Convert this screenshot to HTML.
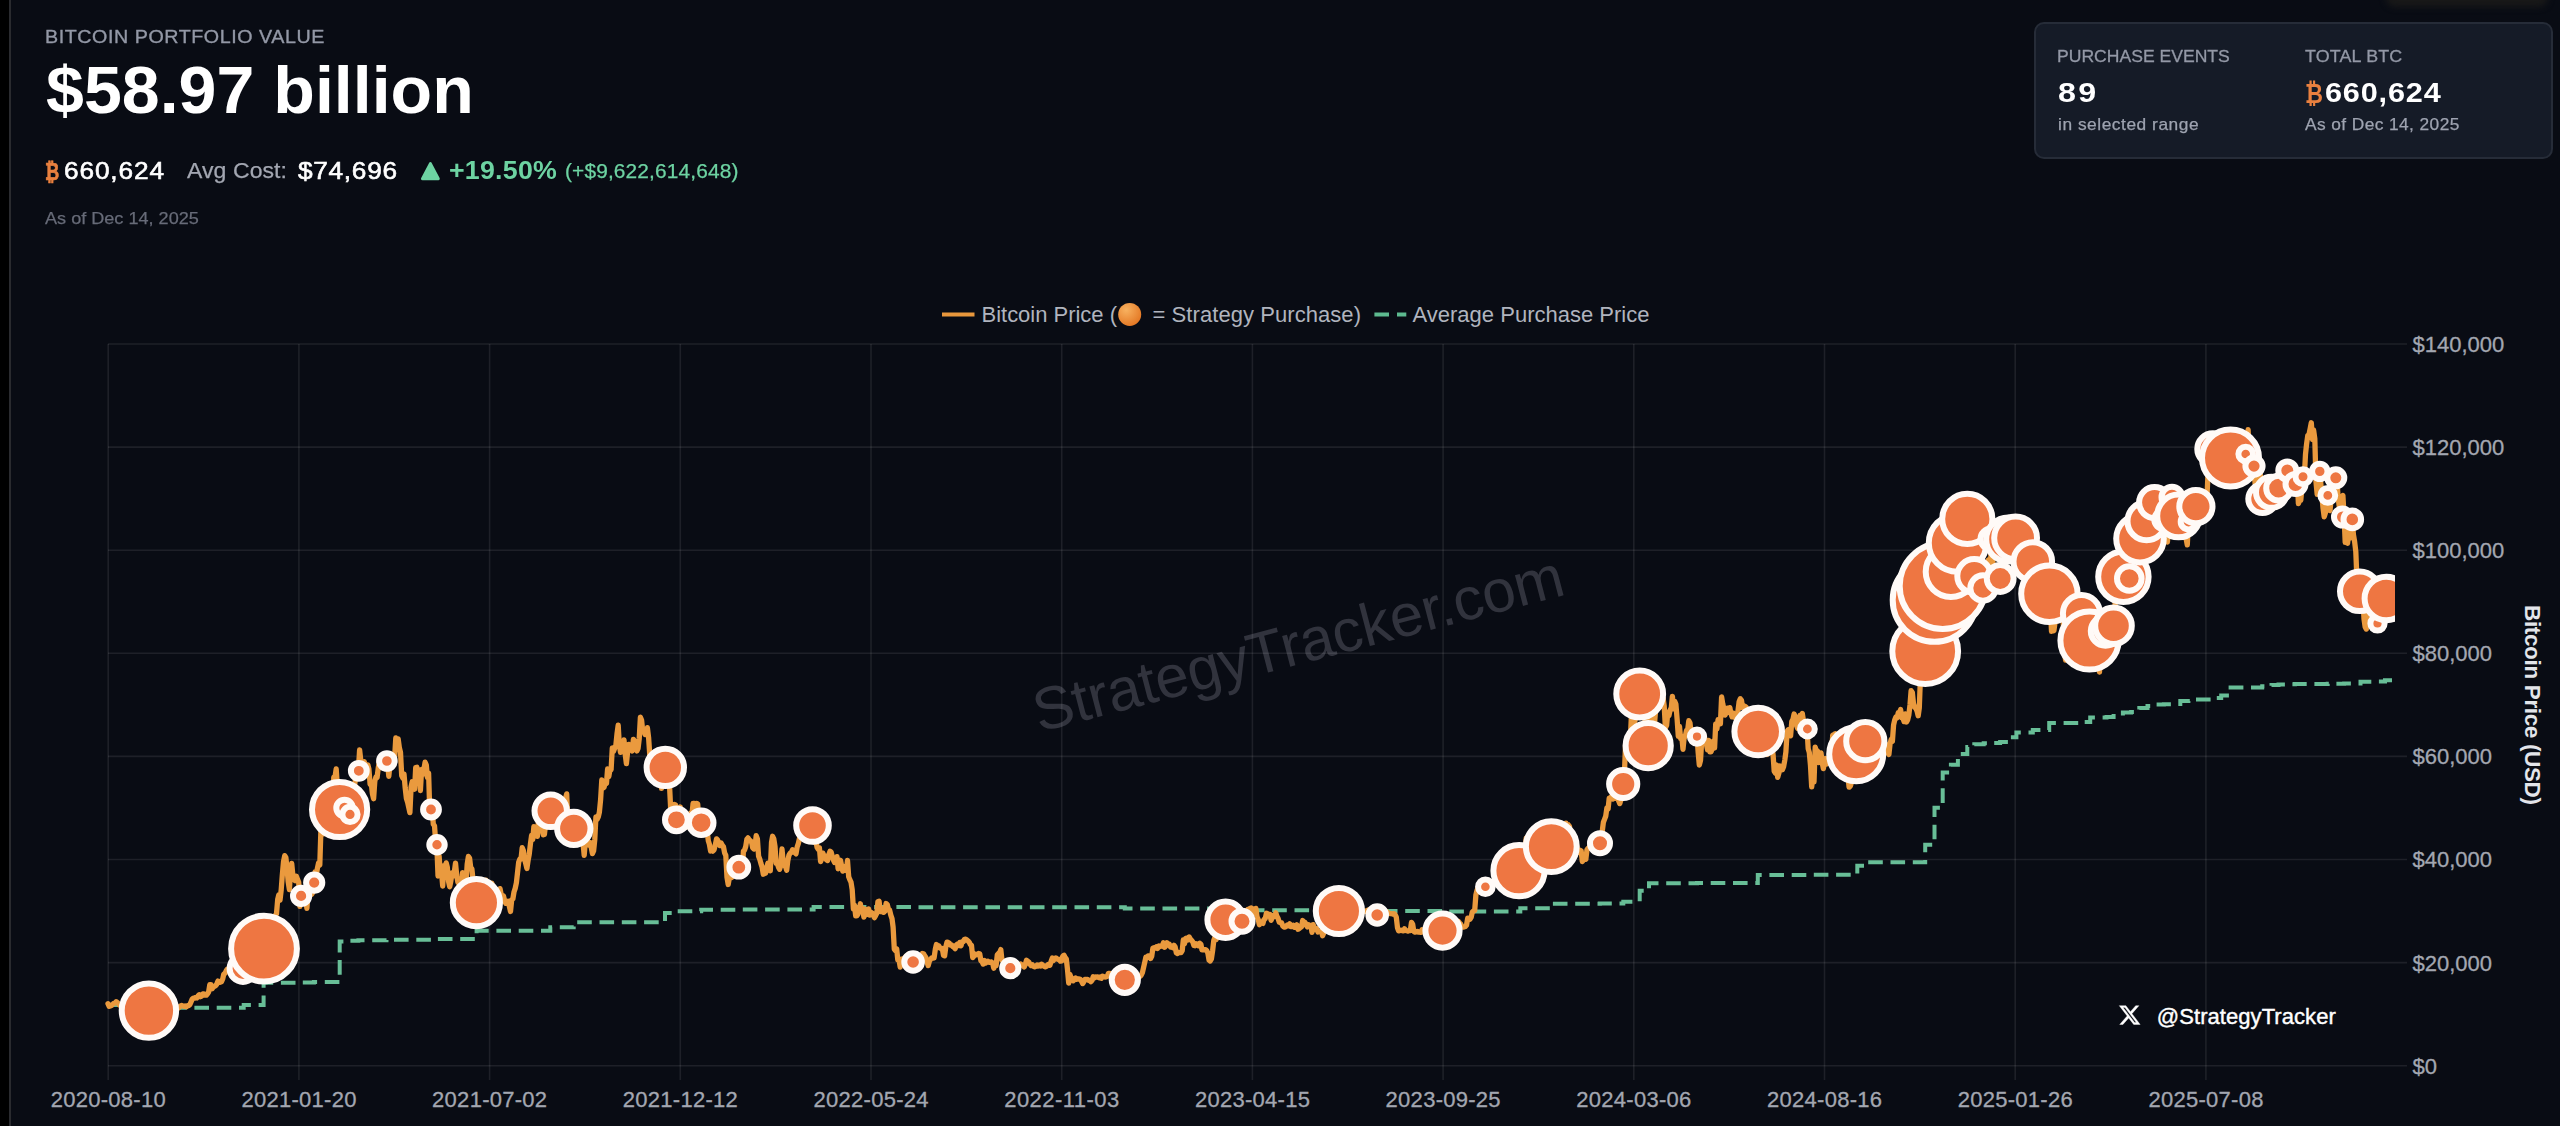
<!DOCTYPE html>
<html lang="en"><head><meta charset="utf-8"><title>Bitcoin Portfolio Value</title>
<style>
html,body{margin:0;padding:0}
body{width:2560px;height:1126px;overflow:hidden;position:relative;background:#090c14;font-family:"Liberation Sans",Arial,Helvetica,sans-serif;color:#fff}
.abs{position:absolute;white-space:nowrap;line-height:1}
.strip{position:absolute;left:0;top:0;width:9px;height:1126px;background:#000}
.edge{position:absolute;left:9px;top:0;width:2px;height:1126px;background:#2a2b2f}
.smudge{position:absolute;left:2386px;top:-12px;width:162px;height:19px;border-radius:9px;background:#181818;filter:blur(3px)}
.chart{position:absolute;left:0;top:0}
.card{position:absolute;left:2034px;top:22px;width:519px;height:136.5px;box-sizing:border-box;border:2px solid #262c38;border-radius:10px;background:#151b27}
.lbl{color:#9398a6}
.g{color:#6dd3a2}
.o{color:#e9803f}
</style></head><body>
<div class="strip"></div><div class="edge"></div><div class="smudge"></div>
<svg class="chart" width="2560" height="1126" viewBox="0 0 2560 1126" font-family="Liberation Sans, Arial, Helvetica, sans-serif">
<defs><clipPath id="cp"><rect x="100" y="330" width="2295.0" height="750"/></clipPath>
<radialGradient id="coin" cx="0.35" cy="0.3" r="0.8"><stop offset="0" stop-color="#f8b260"/><stop offset="1" stop-color="#e2731f"/></radialGradient></defs>
<g transform="translate(1298 643) rotate(-14.65)"><text x="0" y="21" text-anchor="middle" font-size="60" fill="#31333d" textLength="546">StrategyTracker.com</text></g>
<g stroke="#ffffff" stroke-opacity="0.088" stroke-width="1.6" fill="none"><path d="M108.2 344V1080"/><path d="M298.9 344V1080"/><path d="M489.6 344V1080"/><path d="M680.3 344V1080"/><path d="M871 344V1080"/><path d="M1061.7 344V1080"/><path d="M1252.4 344V1080"/><path d="M1443.1 344V1080"/><path d="M1633.8 344V1080"/><path d="M1824.5 344V1080"/><path d="M2015.2 344V1080"/><path d="M2205.9 344V1080"/><path d="M108 344H2407"/><path d="M108 447.1H2407"/><path d="M108 550.2H2407"/><path d="M108 653.3H2407"/><path d="M108 756.4H2407"/><path d="M108 859.5H2407"/><path d="M108 962.6H2407"/><path d="M108 1065.7H2407"/></g>
<g font-size="22" fill="#a3a7b1" stroke="#a3a7b1" stroke-width="0.3"><text x="108.2" y="1106.7" text-anchor="middle" textLength="115">2020-08-10</text><text x="298.9" y="1106.7" text-anchor="middle" textLength="115">2021-01-20</text><text x="489.6" y="1106.7" text-anchor="middle" textLength="115">2021-07-02</text><text x="680.3" y="1106.7" text-anchor="middle" textLength="115">2021-12-12</text><text x="871" y="1106.7" text-anchor="middle" textLength="115">2022-05-24</text><text x="1061.7" y="1106.7" text-anchor="middle" textLength="115">2022-11-03</text><text x="1252.4" y="1106.7" text-anchor="middle" textLength="115">2023-04-15</text><text x="1443.1" y="1106.7" text-anchor="middle" textLength="115">2023-09-25</text><text x="1633.8" y="1106.7" text-anchor="middle" textLength="115">2024-03-06</text><text x="1824.5" y="1106.7" text-anchor="middle" textLength="115">2024-08-16</text><text x="2015.2" y="1106.7" text-anchor="middle" textLength="115">2025-01-26</text><text x="2205.9" y="1106.7" text-anchor="middle" textLength="115">2025-07-08</text><text x="2412.5" y="351.9">$140,000</text><text x="2412.5" y="455">$120,000</text><text x="2412.5" y="558.1">$100,000</text><text x="2412.5" y="661.2">$80,000</text><text x="2412.5" y="764.3">$60,000</text><text x="2412.5" y="867.4">$40,000</text><text x="2412.5" y="970.5">$20,000</text><text x="2412.5" y="1073.6">$0</text></g>
<text transform="translate(2524.5 705) rotate(90)" text-anchor="middle" font-size="22.5" font-weight="bold" fill="#e3e5ea" textLength="200">Bitcoin Price (USD)</text>
<g font-size="22" fill="#b0b4be">
<path d="M942 314.5H974.5" stroke="#e8973c" stroke-width="4"/>
<text x="981.5" y="322.2" textLength="135.5">Bitcoin Price (</text>
<circle cx="1129.7" cy="314.4" r="11.5" fill="url(#coin)"/>
<text x="1152.5" y="322.2" textLength="208.5">= Strategy Purchase)</text>
<path d="M1374.4 314.5H1389M1397 314.5H1406.3" stroke="#5dba8f" stroke-width="4"/>
<text x="1412.5" y="322.2" textLength="237">Average Purchase Price</text>
</g>
<g clip-path="url(#cp)">
<path d="M108 1005 H149 V1007.8 H243.7 V1005.1 H263.6 V982.8 H301.1 V982.4 H313.9 V982.1 H339.7 V941.5 H345.5 V941.1 H350.2 V940.8 H358.4 V940.3 H386.5 V939.8 H430.9 V939.4 H436.8 V939.1 H476.6 V930.7 H550.3 V927.2 H573.7 V922.3 H665 V913 H676.7 V911.3 H701.2 V909.7 H739.9 V909.5 H813.6 V907 H913 V907.2 H1010.2 V907.3 H1124.8 V908.5 H1225.5 V910.3 H1240.7 V910.3 H1339 V911.1 H1377.6 V911.1 H1443.1 V911.6 H1486.4 V911.6 H1520.3 V908.3 H1551.9 V903.7 H1599.9 V903.4 H1623.3 V901.7 H1639.7 V890.7 H1649 V883.2 H1697 V883.1 H1757.8 V874.9 H1807 V874.7 H1857.3 V865.7 H1865.5 V862.2 H1925.2 V844.7 H1934.5 V807.8 H1942.7 V772.4 H1950.9 V764.7 H1957.9 V754.1 H1967.3 V746.9 H1974.3 V744.2 H1983.7 V743.3 H1991.9 V742.9 H2000.1 V742 H2008.3 V737.3 H2016.4 V732.6 H2032.8 V729.9 H2049.2 V723.1 H2073.8 V723.1 H2082 V721.9 H2090.2 V717.5 H2106.5 V717 H2113.6 V715.9 H2122.9 V712.4 H2131.1 V711.9 H2139.3 V708.1 H2147.5 V705.9 H2155.7 V704.6 H2163.9 V704.3 H2172.1 V704 H2180.3 V701 H2188.4 V700.9 H2195.5 V699.4 H2213 V697.9 H2221.2 V695.4 H2230.6 V687.6 H2245.8 V687.5 H2254 V687.4 H2262.2 V686.3 H2271.5 V685.1 H2278.5 V684.5 H2286.7 V684.3 H2294.9 V684 H2303.1 V684 H2319.5 V683.9 H2327.7 V683.8 H2335.9 V683.7 H2344.1 V683.6 H2352.3 V683.5 H2360.5 V681.7 H2376.8 V681.6 H2385 V680.3 H2392" fill="none" stroke="#68be97" stroke-width="4" stroke-dasharray="14.6 7.7"/>
<path d="M108 1003.7 L109.2 1006.3 L110.3 1005.9 L111.5 1005.5 L112.7 1004.4 L113.9 1003.3 L115 1003.2 L116.2 1001.7 L117.4 1002.6 L118.5 1003.8 L119.7 1005.2 L120.9 1005.5 L122 1005.8 L123.2 1006.7 L124.4 1006.4 L125.6 1006.5 L126.7 1006.9 L127.9 1006.6 L129.1 1005.8 L130.2 1005.3 L131.4 1004.1 L132.6 1004.6 L133.7 1003.5 L134.9 1008.3 L136.1 1012.5 L137.3 1012.4 L138.4 1012.7 L139.6 1012.3 L140.8 1012.8 L141.9 1013 L143.1 1012.7 L144.3 1011.6 L145.4 1012.4 L146.6 1011.4 L147.8 1010.3 L149 1010 L150.1 1009.6 L151.3 1008.6 L152.5 1008.8 L153.6 1008.6 L154.8 1007.8 L156 1009.9 L157.1 1011.4 L158.3 1011.4 L159.5 1012.2 L160.7 1011.8 L161.8 1010.4 L163 1009.6 L164.2 1009.4 L165.3 1009.7 L166.5 1009.5 L167.7 1009.5 L168.8 1010.6 L170 1010.6 L171.2 1010.8 L172.4 1010.2 L173.5 1009.5 L174.7 1009 L175.9 1009.2 L177 1008.9 L178.2 1008.1 L179.4 1006.8 L180.5 1006 L181.7 1005.5 L182.9 1005.9 L184.1 1006.4 L185.2 1006 L186.4 1006.7 L187.6 1005.7 L188.7 1005.6 L189.9 1004.5 L191.1 1001.7 L192.2 999.1 L193.4 998.2 L194.6 998.1 L195.8 997.4 L196.9 997.9 L198.1 995.9 L199.3 994.7 L200.4 996.7 L201.6 996.1 L202.8 994 L203.9 993.9 L205.1 995.2 L206.3 995.2 L207.5 993.8 L208.6 992.1 L209.8 984.7 L211 984.7 L212.1 988.8 L213.3 987 L214.5 986.2 L215.6 985.8 L216.8 984.1 L218 981.1 L219.2 981.7 L220.3 982.3 L221.5 981.6 L222.7 979 L223.8 974.1 L225 973.3 L226.2 970.8 L227.4 969 L228.5 968.7 L229.7 968.9 L230.9 970.2 L232 966.6 L233.2 968.7 L234.4 976.7 L235.5 976.9 L236.7 973.8 L237.9 968.5 L239.1 963.5 L240.2 968.2 L241.4 965.6 L242.6 964.8 L243.7 968.7 L244.9 966.4 L246.1 968.3 L247.2 968.8 L248.4 970.8 L249.6 971 L250.8 971.4 L251.9 972 L253.1 969.3 L254.3 966.4 L255.4 964.9 L256.6 965.1 L257.8 955.3 L258.9 947.6 L260.1 943.6 L261.3 942.2 L262.5 945.1 L263.6 947.8 L264.8 946.1 L266 945.3 L267.1 942.8 L268.3 937.8 L269.5 928.8 L270.6 929.8 L271.8 926.3 L273 924.1 L274.2 916.4 L275.3 915.6 L276.5 913.8 L277.7 899.4 L278.8 895 L280 900.2 L281.2 889.9 L282.3 875.2 L283.5 861.8 L284.7 855.7 L285.9 857.7 L287 868.3 L288.2 881.9 L289.4 889.6 L290.5 872.6 L291.7 863.4 L292.9 875.5 L294 879.6 L295.2 880.6 L296.4 876.3 L297.6 879.6 L298.7 882.2 L299.9 906.4 L301.1 895 L302.2 899.7 L303.4 898.7 L304.6 898.9 L305.7 897.6 L306.9 908.4 L308.1 893 L309.3 888.4 L310.4 888.4 L311.6 894.5 L312.8 892.5 L313.9 882.2 L315.1 871.9 L316.3 874.7 L317.4 868.3 L318.6 862.9 L319.8 864.9 L321 827.1 L322.1 825.5 L323.3 834 L324.5 818.3 L325.6 820.9 L326.8 821.9 L328 814.2 L329.2 818.1 L330.3 811.6 L331.5 796.7 L332.7 799.3 L333.8 777.1 L335 777.1 L336.2 768.9 L337.3 785.9 L338.5 813.2 L339.7 809 L340.9 822.4 L342 826.6 L343.2 827.1 L344.4 832.5 L345.5 809.6 L346.7 815.7 L347.9 804.9 L349 815.2 L350.2 813.2 L351.4 813.2 L352.6 801.3 L353.7 795.7 L354.9 782.8 L356.1 776.6 L357.2 767.3 L358.4 769.9 L359.6 749.8 L360.7 759.6 L361.9 777.1 L363.1 772.5 L364.3 761.7 L365.4 768.1 L366.6 764.8 L367.8 764.8 L368.9 768.9 L370.1 784.3 L371.3 783.3 L372.4 793.6 L373.6 798.7 L374.8 781.2 L376 776.9 L377.1 777.4 L378.3 767.6 L379.5 761.7 L380.6 761.7 L381.8 760.6 L383 759.1 L384.1 768.4 L385.3 762.4 L386.5 760.9 L387.7 765.3 L388.8 776.3 L390 764.8 L391.2 765 L392.3 757 L393.5 755 L394.7 756.5 L395.8 738 L397 740 L398.2 739 L399.4 748 L400.5 752.4 L401.7 775.6 L402.9 778.1 L404 774 L405.2 787.9 L406.4 798.5 L407.5 801.8 L408.7 807.2 L409.9 812.6 L411.1 786.9 L412.2 781.8 L413.4 782.5 L414.6 789.2 L415.7 767.6 L416.9 767.3 L418.1 773.5 L419.2 770.4 L420.4 790.5 L421.6 769.4 L422.8 774.5 L423.9 769.6 L425.1 762.2 L426.3 765 L427.4 777.4 L428.6 773 L429.8 811.9 L430.9 809 L432.1 808 L433.3 824.2 L434.5 825.8 L435.6 840.7 L436.8 844.1 L438 876 L439.1 855.9 L440.3 872.9 L441.5 871.9 L442.7 886 L443.8 865.7 L445 867.2 L446.2 862.9 L447.3 867.2 L448.5 881.1 L449.7 886.8 L450.8 881.4 L452 872.9 L453.2 876 L454.4 871.6 L455.5 863.1 L456.7 875.2 L457.9 882.2 L459 880.6 L460.2 892.2 L461.4 893 L462.5 872.6 L463.7 876 L464.9 872.9 L466.1 881.9 L467.2 864.1 L468.4 856.4 L469.6 858.2 L470.7 867.5 L471.9 869 L473.1 880.6 L474.2 881.9 L475.4 881.7 L476.6 902.3 L477.8 897.6 L478.9 891.4 L480.1 886.6 L481.3 902.3 L482.4 899.2 L483.6 886.6 L484.8 887.6 L485.9 880.1 L487.1 884.5 L488.3 892.2 L489.5 890.9 L490.6 886.3 L491.8 883.2 L493 891.4 L494.1 888.9 L495.3 890.7 L496.5 895.6 L497.6 890.9 L498.8 892.5 L500 888.6 L501.2 894.5 L502.3 896.6 L503.5 896.1 L504.7 901 L505.8 903.3 L507 902.8 L508.2 901.2 L509.3 906.1 L510.5 911.5 L511.7 899.7 L512.9 898.7 L514 892 L515.2 888.4 L516.4 882.7 L517.5 872.9 L518.7 862.1 L519.9 859 L521 859 L522.2 847.7 L523.4 850.8 L524.6 859.5 L525.7 863.4 L526.9 868.5 L528.1 860.3 L529.2 854.4 L530.4 844.3 L531.6 835.3 L532.7 839.4 L533.9 826.6 L535.1 830.2 L536.3 830.2 L537.4 836.3 L538.6 818.8 L539.8 822.4 L540.9 822.7 L542.1 828.4 L543.3 834.8 L544.4 834.5 L545.6 824.2 L546.8 811.1 L548 813.2 L549.1 811.1 L550.3 810.1 L551.5 819.3 L552.6 812.6 L553.8 823.7 L555 812.4 L556.2 813.2 L557.3 813.7 L558.5 823 L559.7 822.2 L560.8 813.4 L562 811.1 L563.2 807.5 L564.3 807.8 L565.5 798.5 L566.7 793.9 L567.9 824 L569 827.6 L570.2 826 L571.4 834 L572.5 832.2 L573.7 827.8 L574.9 833.5 L576 822.4 L577.2 817 L578.4 819.1 L579.6 821.4 L580.7 816.3 L581.9 821.7 L583.1 843.5 L584.2 855.4 L585.4 840.7 L586.6 833.8 L587.7 844.3 L588.9 845.1 L590.1 842.5 L591.3 847.7 L592.4 853.6 L593.6 851 L594.8 839.4 L595.9 817 L597.1 819.3 L598.3 816.8 L599.4 812.1 L600.6 799.8 L601.8 779.9 L603 787.9 L604.1 787.2 L605.3 782 L606.5 783.3 L607.6 768.9 L608.8 776.6 L610 769.4 L611.1 769.6 L612.3 747.8 L613.5 751.4 L614.7 748 L615.8 745.7 L617 733.9 L618.2 725.1 L619.3 744.7 L620.5 752.4 L621.7 748.8 L622.8 751.4 L624 740 L625.2 754.2 L626.4 763.7 L627.5 752.9 L628.7 744.4 L629.9 746.2 L631 749.3 L632.2 750.9 L633.4 739.3 L634.5 740.8 L635.7 748.5 L636.9 750.9 L638.1 748.3 L639.2 739 L640.4 717.1 L641.6 720.2 L642.7 730.8 L643.9 731.3 L645.1 734.6 L646.2 733.3 L647.4 727.7 L648.6 737.5 L649.8 755.5 L650.9 754.2 L652.1 772 L653.3 765.8 L654.4 757.5 L655.6 762.7 L656.8 775.1 L657.9 768.6 L659.1 770.4 L660.3 761.4 L661.5 788.4 L662.6 782.8 L663.8 769.9 L665 767.3 L666.1 771.5 L667.3 770.4 L668.5 774 L669.7 789 L670.8 811.6 L672 810.6 L673.2 804.9 L674.3 804.4 L675.5 804.9 L676.7 819.9 L677.8 821.9 L679 810.6 L680.2 807 L681.4 824.5 L682.5 825 L683.7 813.2 L684.9 819.9 L686 827.1 L687.2 823.7 L688.4 824.5 L689.5 823.5 L690.7 813.2 L691.9 814.7 L693.1 803.4 L694.2 803.4 L695.4 805.4 L696.6 803.4 L697.7 803.9 L698.9 820.1 L700.1 825.8 L701.2 822.2 L702.4 826.6 L703.6 819.3 L704.8 821.7 L705.9 825.8 L707.1 830.5 L708.3 840.7 L709.4 844.2 L710.6 851 L711.8 850.2 L712.9 851.1 L714.1 849.7 L715.3 844.9 L716.5 838.9 L717.6 840.1 L718.8 843 L720 845.6 L721.1 843 L722.3 845.2 L723.5 846.9 L724.6 852.8 L725.8 855.4 L727 877.3 L728.2 884.5 L729.3 878.1 L730.5 876.3 L731.7 877.5 L732.8 875.2 L734 874.9 L735.2 870.6 L736.3 868.9 L737.5 869.8 L738.7 866.7 L739.9 865.4 L741 871.3 L742.2 873.7 L743.4 851.3 L744.5 850.3 L745.7 846.6 L746.9 839.2 L748 837.9 L749.2 839.9 L750.4 840.7 L751.6 842.2 L752.7 847.7 L753.9 849 L755.1 845.9 L756.2 835.6 L757.4 838.9 L758.6 856.2 L759.7 859 L760.9 863.4 L762.1 867.2 L763.3 874.2 L764.4 868 L765.6 873.2 L766.8 867.5 L767.9 863.1 L769.1 866.7 L770.3 870.8 L771.5 842.5 L772.6 836.3 L773.8 838.9 L775 846.4 L776.1 863.4 L777.3 863.5 L778.5 867.2 L779.6 869.3 L780.8 865.4 L782 849 L783.2 861.8 L784.3 865.4 L785.5 866.4 L786.7 870.3 L787.8 860.8 L789 855.1 L790.2 853.1 L791.3 852.5 L792.5 849.7 L793.7 851.6 L794.9 852.6 L796 853.9 L797.2 846.9 L798.4 843.4 L799.5 838.4 L800.7 836.6 L801.9 828 L803 823.7 L804.2 822.4 L805.4 820.6 L806.6 822.7 L807.7 830.4 L808.9 826.6 L810.1 823.7 L811.2 826 L812.4 825 L813.6 830.7 L814.7 842.5 L815.9 841 L817.1 847.4 L818.3 849.4 L819.4 847.7 L820.6 861.6 L821.8 858.5 L822.9 853.1 L824.1 856.3 L825.3 856.2 L826.4 859.7 L827.6 860.5 L828.8 854.9 L830 851.3 L831.1 852 L832.3 856.4 L833.5 860.3 L834.6 862.4 L835.8 861.8 L837 856.7 L838.1 868.8 L839.3 862.9 L840.5 860.3 L841.7 866.2 L842.8 871.1 L844 866.7 L845.2 866.7 L846.3 870.6 L847.5 860.5 L848.7 876.8 L849.8 879.6 L851 882.2 L852.2 889.6 L853.4 909 L854.5 905.4 L855.7 915.9 L856.9 915.6 L858 914.1 L859.2 910 L860.4 903.8 L861.5 911.3 L862.7 908.4 L863.9 917.2 L865.1 909 L866.2 914.6 L867.4 911.8 L868.6 909 L869.7 915.1 L870.9 912.3 L872.1 913 L873.2 914.4 L874.4 917.7 L875.6 915.6 L876.8 913.3 L877.9 901.7 L879.1 901.2 L880.3 911.5 L881.4 908.2 L882.6 912 L883.8 912.4 L885 911 L886.1 903.5 L887.3 904.6 L888.5 909.5 L889.6 910 L890.8 915.1 L892 918.7 L893.1 927.2 L894.3 949.1 L895.5 950.7 L896.7 948.9 L897.8 959.9 L899 959.7 L900.2 967.1 L901.3 959.2 L902.5 959.2 L903.7 958.4 L904.8 962.3 L906 956.3 L907.2 955.8 L908.4 954.3 L909.5 956.6 L910.7 958.1 L911.9 960.7 L913 961.5 L914.2 963 L915.4 965.9 L916.5 966.9 L917.7 965.6 L918.9 961 L920.1 961 L921.2 959.2 L922.4 953.5 L923.6 953.8 L924.7 955.9 L925.9 957.6 L927.1 962.3 L928.2 965.6 L929.4 961 L930.6 959.2 L931.8 957.9 L932.9 958.2 L934.1 957.9 L935.3 949.4 L936.4 944.5 L937.6 945.5 L938.8 945.8 L939.9 948.1 L941.1 948.2 L942.3 948.6 L943.5 955.3 L944.6 955.8 L945.8 946.8 L947 942.2 L948.1 942.4 L949.3 943.2 L950.5 945 L951.6 945 L952.8 946.5 L954 947.3 L955.2 948.6 L956.3 945 L957.5 944 L958.7 945.5 L959.8 942.4 L961 945.8 L962.2 941.7 L963.3 941.7 L964.5 939.3 L965.7 939.1 L966.9 939.9 L968 940.9 L969.2 942.2 L970.4 944.7 L971.5 945.5 L972.7 957.6 L973.9 956.1 L975 954 L976.2 954.8 L977.4 954.3 L978.6 953.5 L979.7 953.8 L980.9 960.7 L982.1 961.7 L983.2 964.1 L984.4 960.5 L985.6 963 L986.7 961.7 L987.9 961.2 L989.1 962.3 L990.3 962.1 L991.4 962 L992.6 963 L993.8 968.2 L994.9 965.6 L996.1 965.6 L997.3 954.8 L998.5 953.5 L999.6 952.7 L1000.8 949.6 L1002 960.5 L1003.1 960.7 L1004.3 963.5 L1005.5 963 L1006.6 961.5 L1007.8 965.1 L1009 964.3 L1010.2 967.7 L1011.3 969.5 L1012.5 965.1 L1013.7 965.6 L1014.8 966.6 L1016 968.2 L1017.2 966.1 L1018.3 966.6 L1019.5 965.1 L1020.7 964.1 L1021.9 965.1 L1023 965.6 L1024.2 966.9 L1025.4 964.1 L1026.5 960.2 L1027.7 961.2 L1028.9 962.3 L1030 964.3 L1031.2 965.6 L1032.4 964.8 L1033.6 966.4 L1034.7 966.9 L1035.9 966.4 L1037.1 965.1 L1038.2 966.1 L1039.4 965 L1040.6 965.9 L1041.7 964.3 L1042.9 965.3 L1044.1 966.4 L1045.3 966.9 L1046.4 966.4 L1047.6 964.7 L1048.8 964.3 L1049.9 965.3 L1051.1 961.5 L1052.3 958.1 L1053.4 960.5 L1054.6 958.9 L1055.8 957.9 L1057 958.9 L1058.1 959.4 L1059.3 959.4 L1060.5 961.2 L1061.6 961 L1062.8 956.1 L1064 955.3 L1065.1 957.4 L1066.3 958.9 L1067.5 969.5 L1068.7 983.1 L1069.8 974.4 L1071 977.2 L1072.2 978.5 L1073.3 980.8 L1074.5 979.5 L1075.7 978 L1076.8 979.3 L1078 979 L1079.2 979 L1080.4 979.3 L1081.5 981.1 L1082.7 983.6 L1083.9 981.6 L1085 979.5 L1086.2 979.5 L1087.4 979.3 L1088.5 980.3 L1089.7 980.3 L1090.9 981.6 L1092.1 980.3 L1093.2 976.7 L1094.4 977.7 L1095.6 976.9 L1096.7 977.2 L1097.9 976.9 L1099.1 977.7 L1100.2 976.9 L1101.4 978.2 L1102.6 976.2 L1103.8 976.7 L1104.9 977 L1106.1 976.9 L1107.3 976.4 L1108.4 973.3 L1109.6 973.3 L1110.8 975.6 L1112 979.3 L1113.1 978.5 L1114.3 978.7 L1115.5 980.3 L1116.6 978 L1117.8 979 L1119 978.5 L1120.1 978.1 L1121.3 978.2 L1122.5 979 L1123.7 978 L1124.8 979 L1126 979.8 L1127.2 980.5 L1128.3 979.5 L1129.5 979.8 L1130.7 980 L1131.8 979 L1133 979.3 L1134.2 978.2 L1135.4 978.3 L1136.5 977.7 L1137.7 978.3 L1138.9 976.9 L1140 976.4 L1141.2 975.1 L1142.4 972.6 L1143.5 967.9 L1144.7 962.5 L1145.9 957.1 L1147.1 957.4 L1148.2 955.8 L1149.4 956.1 L1150.6 958.4 L1151.7 956.3 L1152.9 948.1 L1154.1 947.6 L1155.2 948.1 L1156.4 946.8 L1157.6 948.4 L1158.8 946 L1159.9 946.5 L1161.1 946 L1162.3 946.3 L1163.4 942.7 L1164.6 947.3 L1165.8 945.8 L1166.9 942.7 L1168.1 944 L1169.3 944.2 L1170.5 947 L1171.6 946.8 L1172.8 947.8 L1174 945.3 L1175.1 946.8 L1176.3 952.7 L1177.5 953.5 L1178.6 952.5 L1179.8 952.7 L1181 952.7 L1182.2 950.7 L1183.3 939.9 L1184.5 943.7 L1185.7 938.3 L1186.8 938.1 L1188 939.9 L1189.2 937 L1190.3 939.1 L1191.5 940.4 L1192.7 941.7 L1193.9 945.5 L1195 945.8 L1196.2 943.7 L1197.4 944 L1198.5 945.8 L1199.7 943.2 L1200.9 944.2 L1202 949.9 L1203.2 949.9 L1204.4 949.6 L1205.6 949.6 L1206.7 950.7 L1207.9 953.2 L1209.1 960.2 L1210.2 961 L1211.4 958.9 L1212.6 950.9 L1213.8 940.4 L1214.9 937.5 L1216.1 939.6 L1217.3 936 L1218.4 923.9 L1219.6 926.2 L1220.8 920.8 L1221.9 922.1 L1223.1 920 L1224.3 924.4 L1225.5 919.3 L1226.6 923.6 L1227.8 923.4 L1229 920.8 L1230.1 925.2 L1231.3 924.7 L1232.5 919 L1233.6 920.5 L1234.8 918.2 L1236 918.5 L1237.2 919.8 L1238.3 921.8 L1239.5 920 L1240.7 919.8 L1241.8 920.5 L1243 921.3 L1244.2 921.1 L1245.3 919 L1246.5 912.3 L1247.7 909.5 L1248.9 911 L1250 908.4 L1251.2 907.9 L1252.4 909 L1253.5 909 L1254.7 913.3 L1255.9 908.4 L1257 916.7 L1258.2 919.5 L1259.4 924.7 L1260.6 921.8 L1261.7 922.9 L1262.9 923.4 L1264.1 919.3 L1265.2 918.7 L1266.4 913.3 L1267.6 913.8 L1268.7 914.4 L1269.9 914.4 L1271.1 920.3 L1272.3 917.2 L1273.4 915.6 L1274.6 916.4 L1275.8 912.8 L1276.9 916.2 L1278.1 918.5 L1279.3 922.3 L1280.4 922.6 L1281.6 922.9 L1282.8 926 L1284 927 L1285.1 927 L1286.3 926.2 L1287.5 924.9 L1288.6 925.7 L1289.8 923.9 L1291 926.7 L1292.1 926.5 L1293.3 925.4 L1294.5 927.2 L1295.7 926.7 L1296.8 924.7 L1298 929.3 L1299.2 928.5 L1300.3 927.5 L1301.5 926.7 L1302.7 920.5 L1303.8 922.1 L1305 922.3 L1306.2 924.9 L1307.4 927 L1308.5 924.7 L1309.7 925.4 L1310.9 925.4 L1312 932.4 L1313.2 924.7 L1314.4 929.3 L1315.5 928.5 L1316.7 928.5 L1317.9 931.9 L1319.1 931.4 L1320.2 931.6 L1321.4 931.4 L1322.6 935.7 L1323.7 933.2 L1324.9 929.3 L1326.1 928.5 L1327.3 929.3 L1328.4 926.7 L1329.6 919.3 L1330.8 910.5 L1331.9 911 L1333.1 906.9 L1334.3 907.7 L1335.4 907.9 L1336.6 909.2 L1337.8 906.9 L1339 910 L1340.1 908.2 L1341.3 907.9 L1342.5 907.4 L1343.6 907.4 L1344.8 904.6 L1346 906.4 L1347.1 907.9 L1348.3 911 L1349.5 908.7 L1350.7 909 L1351.8 909.5 L1353 908.4 L1354.2 907.4 L1355.3 908.4 L1356.5 903 L1357.7 909 L1358.8 909 L1360 909.2 L1361.2 909.7 L1362.4 911.3 L1363.5 911 L1364.7 911.5 L1365.9 911 L1367 911.5 L1368.2 910 L1369.4 914.6 L1370.5 914.4 L1371.7 913.8 L1372.9 914.6 L1374.1 914.1 L1375.2 913.8 L1376.4 914.1 L1377.6 914.4 L1378.7 912 L1379.9 914.9 L1381.1 914.6 L1382.2 915.1 L1383.4 915.4 L1384.6 915.4 L1385.8 914.6 L1386.9 911.8 L1388.1 912.8 L1389.3 913.3 L1390.4 913.6 L1391.6 913.6 L1392.8 914.1 L1393.9 913.6 L1395.1 914.6 L1396.3 917.2 L1397.5 927.8 L1398.6 930.8 L1399.8 930.6 L1401 930.1 L1402.1 930.6 L1403.3 930.8 L1404.5 928.8 L1405.6 930.3 L1406.8 930.8 L1408 931.1 L1409.2 930.6 L1410.3 930.6 L1411.5 922.3 L1412.7 924.4 L1413.8 931.4 L1415 932.1 L1416.2 931.9 L1417.3 931.4 L1418.5 932.1 L1419.7 932.1 L1420.9 932.4 L1422 929.8 L1423.2 931.6 L1424.4 931.6 L1425.5 931.9 L1426.7 935.5 L1427.9 931.9 L1429 929.8 L1430.2 928.3 L1431.4 928 L1432.6 928.3 L1433.7 928.3 L1434.9 927.2 L1436.1 924.9 L1437.2 925.2 L1438.4 928.3 L1439.6 928 L1440.8 928 L1441.9 929.8 L1443.1 929.6 L1444.3 930.1 L1445.4 929.3 L1446.6 926 L1447.8 926.5 L1448.9 926.2 L1450.1 920.8 L1451.3 923.4 L1452.5 923.9 L1453.6 921.8 L1454.8 923.9 L1456 921.1 L1457.1 921.1 L1458.3 921.3 L1459.5 922.9 L1460.6 923.9 L1461.8 926.7 L1463 927.2 L1464.2 926.7 L1465.3 926.7 L1466.5 925.2 L1467.7 918.2 L1468.8 918.7 L1470 919.3 L1471.2 917.2 L1472.3 912 L1473.5 911 L1474.7 910.5 L1475.9 894.8 L1477 890.4 L1478.2 887.3 L1479.4 889.1 L1480.5 890.4 L1481.7 889.4 L1482.9 887.3 L1484 887.3 L1485.2 886.6 L1486.4 882.7 L1487.6 885.3 L1488.7 886.3 L1489.9 884.5 L1491.1 884.8 L1492.2 884.5 L1493.4 882.7 L1494.6 881.4 L1495.7 876 L1496.9 872.9 L1498.1 873.7 L1499.3 874.2 L1500.4 877 L1501.6 881.9 L1502.8 869.8 L1503.9 878.8 L1505.1 876.5 L1506.3 876.8 L1507.4 872.6 L1508.6 872.1 L1509.8 880.6 L1511 872.4 L1512.1 872.9 L1513.3 870.8 L1514.5 870.3 L1515.6 872.1 L1516.8 873.2 L1518 870.3 L1519.1 870.1 L1520.3 870.8 L1521.5 865.7 L1522.7 861.8 L1523.8 859.3 L1525 849 L1526.2 838.1 L1527.3 839.7 L1528.5 842 L1529.7 837.6 L1530.8 839.9 L1532 839.4 L1533.2 852.6 L1534.4 851.5 L1535.5 844.3 L1536.7 843.5 L1537.9 849 L1539 847.4 L1540.2 852 L1541.4 845.4 L1542.5 847.4 L1543.7 840.2 L1544.9 839.2 L1546.1 838.4 L1547.2 839.9 L1548.4 843.5 L1549.6 840.5 L1550.7 846.1 L1551.9 841.2 L1553.1 845.6 L1554.3 848.2 L1555.4 847.9 L1556.6 847.4 L1557.8 837.6 L1558.9 833.5 L1560.1 844.3 L1561.3 837.6 L1562.4 837.6 L1563.6 838.7 L1564.8 838.9 L1566 823.2 L1567.1 827.6 L1568.3 824.8 L1569.5 826.3 L1570.6 844.3 L1571.8 844.3 L1573 850 L1574.1 846.1 L1575.3 842.8 L1576.5 844.8 L1577.7 852.6 L1578.8 850.5 L1580 850.2 L1581.2 851 L1582.3 861.6 L1583.5 859.8 L1584.7 858.5 L1585.8 859.3 L1587 849.7 L1588.2 848.2 L1589.4 848.4 L1590.5 842 L1591.7 843.8 L1592.9 845.9 L1594 843.3 L1595.2 842.5 L1596.4 843.5 L1597.5 845.6 L1598.7 845.4 L1599.9 843 L1601.1 836.9 L1602.2 831.7 L1603.4 822.2 L1604.6 819.1 L1605.7 816.3 L1606.9 807.8 L1608.1 809 L1609.2 798.2 L1610.4 797.7 L1611.6 796.4 L1612.8 799 L1613.9 796.7 L1615.1 798.2 L1616.3 795.7 L1617.4 798 L1618.6 800.8 L1619.8 803.6 L1620.9 799.5 L1622.1 798.7 L1623.3 784.3 L1624.5 771.2 L1625.6 743.4 L1626.8 749.8 L1628 743.6 L1629.1 745.7 L1630.3 739.8 L1631.5 713.3 L1632.6 736.4 L1633.8 724.6 L1635 720.5 L1636.2 713.3 L1637.3 712.2 L1638.5 709.6 L1639.7 693.7 L1640.8 697 L1642 688.5 L1643.2 697.3 L1644.3 707.6 L1645.5 728.7 L1646.7 712.7 L1647.9 716.9 L1649 746.2 L1650.2 715.3 L1651.4 727.7 L1652.5 736.4 L1653.7 735.1 L1654.9 718.9 L1656.1 704.8 L1657.2 704.5 L1658.4 707.3 L1659.6 700.6 L1660.7 705 L1661.9 706.3 L1663.1 697.8 L1664.2 706 L1665.4 727.9 L1666.6 725.4 L1667.8 712.2 L1668.9 715.6 L1670.1 710.2 L1671.3 707.8 L1672.4 696.3 L1673.6 708.9 L1674.8 701.4 L1675.9 704.2 L1677.1 718.9 L1678.3 736.4 L1679.5 726.4 L1680.6 738.5 L1681.8 736.4 L1683 749.3 L1684.1 738 L1685.3 736.2 L1686.5 730.5 L1687.6 730.5 L1688.8 720.7 L1690 723 L1691.2 733.9 L1692.3 732.8 L1693.5 736.7 L1694.7 738.2 L1695.8 740 L1697 736.2 L1698.2 752.7 L1699.3 765 L1700.5 760.6 L1701.7 741.1 L1702.9 735.9 L1704 735.4 L1705.2 739.8 L1706.4 743.9 L1707.5 749.8 L1708.7 740.3 L1709.9 751.9 L1711 751.9 L1712.2 748.5 L1713.4 741.1 L1714.6 748 L1715.7 723.8 L1716.9 729 L1718.1 719.7 L1719.2 720.5 L1720.4 723.8 L1721.6 697 L1722.7 703.7 L1723.9 708.9 L1725.1 715.1 L1726.3 712 L1727.4 708.1 L1728.6 712.2 L1729.8 707.6 L1730.9 713.3 L1732.1 716.9 L1733.3 713 L1734.4 717.4 L1735.6 716.1 L1736.8 716.1 L1738 710.7 L1739.1 701.7 L1740.3 698.8 L1741.5 700.4 L1742.6 707.8 L1743.8 708.1 L1745 706.3 L1746.1 707.1 L1747.3 718.4 L1748.5 713.5 L1749.7 721.2 L1750.8 725.1 L1752 724.1 L1753.2 721.8 L1754.3 722.5 L1755.5 729.5 L1756.7 730.5 L1757.8 731 L1759 734.9 L1760.2 734.1 L1761.4 739.5 L1762.5 754.5 L1763.7 746.7 L1764.9 751.6 L1766 747.8 L1767.2 754.5 L1768.4 751.4 L1769.6 742.1 L1770.7 741.3 L1771.9 745.4 L1773.1 755 L1774.2 771.2 L1775.4 773.3 L1776.6 765 L1777.7 777.4 L1778.9 773 L1780.1 766 L1781.3 767.6 L1782.4 769.6 L1783.6 766.8 L1784.8 760.1 L1785.9 751.9 L1787.1 731.3 L1788.3 729.7 L1789.4 734.9 L1790.6 735.7 L1791.8 721.5 L1793 719.2 L1794.1 714 L1795.3 716.9 L1796.5 725.4 L1797.6 728.4 L1798.8 726.1 L1800 715.3 L1801.1 715.3 L1802.3 713.5 L1803.5 721 L1804.7 724.1 L1805.8 732.3 L1807 728.4 L1808.2 748.8 L1809.3 752.4 L1810.5 765.8 L1811.7 786.9 L1812.8 776.3 L1814 781.8 L1815.2 747.2 L1816.4 751.6 L1817.5 751.1 L1818.7 762.7 L1819.9 759.3 L1821 752.9 L1822.2 762.7 L1823.4 768.6 L1824.5 761.7 L1825.7 758.6 L1826.9 764 L1828.1 758.8 L1829.2 761.1 L1830.4 750.1 L1831.6 753.9 L1832.7 735.1 L1833.9 734.6 L1835.1 733.9 L1836.2 741.3 L1837.4 758.8 L1838.6 761.1 L1839.8 759.3 L1840.9 760.6 L1842.1 761.4 L1843.3 769.9 L1844.4 760.6 L1845.6 769.1 L1846.8 766.6 L1847.9 775.8 L1849.1 787.2 L1850.3 786.1 L1851.5 782.5 L1852.6 771.2 L1853.8 768.1 L1855 769.6 L1856.1 765.5 L1857.3 753.2 L1858.5 756 L1859.6 760.1 L1860.8 765.3 L1862 754.5 L1863.2 747 L1864.3 740.8 L1865.5 739.5 L1866.7 738.7 L1867.8 737.7 L1869 738.7 L1870.2 734.1 L1871.3 739.8 L1872.5 729.5 L1873.7 726.1 L1874.9 725.9 L1876 727.2 L1877.2 739 L1878.4 751.9 L1879.5 752.7 L1880.7 752.1 L1881.9 745.2 L1883.1 745.4 L1884.2 741.6 L1885.4 744.7 L1886.6 744.9 L1887.7 752.9 L1888.9 754.5 L1890.1 743.4 L1891.2 739.5 L1892.4 741.3 L1893.6 724.8 L1894.8 719.7 L1895.9 716.9 L1897.1 717.9 L1898.3 712.7 L1899.4 713 L1900.6 709.6 L1901.8 717.9 L1902.9 718.1 L1904.1 721.5 L1905.3 713.8 L1906.5 722 L1907.6 720 L1908.8 715.1 L1910 705 L1911.1 690.6 L1912.3 692.4 L1913.5 703.5 L1914.6 707.1 L1915.8 708.1 L1917 710.9 L1918.2 715.8 L1919.3 707.8 L1920.5 675.7 L1921.7 674.1 L1922.8 670.8 L1924 670 L1925.2 650.9 L1926.3 608.2 L1927.5 612.1 L1928.7 598.9 L1929.9 615.4 L1931 596.1 L1932.2 598.7 L1933.4 602.3 L1934.5 598.9 L1935.7 589.7 L1936.9 579.4 L1938 558.2 L1939.2 555.1 L1940.4 561.8 L1941.6 560.3 L1942.7 586 L1943.9 591.5 L1945.1 570.9 L1946.2 572.4 L1947.4 563.1 L1948.6 568.3 L1949.7 564.4 L1950.9 571.4 L1952.1 571.1 L1953.3 556.4 L1954.4 565.5 L1955.6 550.5 L1956.8 550.5 L1957.9 543.8 L1959.1 563.9 L1960.3 567.5 L1961.4 544.1 L1962.6 550 L1963.8 542.8 L1965 542.8 L1966.1 527.3 L1967.3 519.1 L1968.5 518.6 L1969.6 549 L1970.8 562.9 L1972 561.6 L1973.1 564.4 L1974.3 575.2 L1975.5 577.3 L1976.7 557 L1977.8 553.6 L1979 572.1 L1980.2 580.1 L1981.3 574.7 L1982.5 583.2 L1983.7 587.9 L1984.8 584 L1986 578.8 L1987.2 566 L1988.4 559.8 L1989.5 559.3 L1990.7 558.8 L1991.9 538.7 L1993 566 L1994.2 575.5 L1995.4 588.6 L1996.6 577.3 L1997.7 578.1 L1998.9 578.3 L2000.1 578.3 L2001.2 568 L2002.4 547.4 L2003.6 550.3 L2004.7 527.1 L2005.9 527.3 L2007.1 544.3 L2008.3 538.7 L2009.4 518.3 L2010.6 531.2 L2011.8 529.9 L2012.9 525.3 L2014.1 525.8 L2015.3 536.6 L2016.4 539.4 L2017.6 543.3 L2018.8 530.9 L2020 525.8 L2021.1 537.6 L2022.3 546.7 L2023.5 561.8 L2024.6 542.8 L2025.8 561.1 L2027 567.5 L2028.1 567.8 L2029.3 568 L2030.5 568.3 L2031.7 568 L2032.8 563.4 L2034 571.9 L2035.2 561.1 L2036.3 567.5 L2037.5 562.9 L2038.7 562.6 L2039.8 569.8 L2041 571.9 L2042.2 573.2 L2043.4 567.5 L2044.5 558.8 L2045.7 570.1 L2046.9 567.8 L2048 569.3 L2049.2 593.8 L2050.4 608.2 L2051.5 631.4 L2052.7 628.8 L2053.9 630.6 L2055.1 621.8 L2056.2 579.6 L2057.4 621.1 L2058.6 615.7 L2059.7 598.4 L2060.9 601.8 L2062.1 618.2 L2063.2 621.3 L2064.4 649.9 L2065.6 660.2 L2066.8 638.1 L2067.9 633.9 L2069.1 647.6 L2070.3 632.7 L2071.4 630.6 L2072.6 639.9 L2073.8 632.4 L2074.9 639.1 L2076.1 617.7 L2077.3 631.6 L2078.5 632.1 L2079.6 633.4 L2080.8 621.8 L2082 614.4 L2083.1 614.6 L2084.3 617.5 L2085.5 615.9 L2086.6 630.6 L2087.8 639.6 L2089 640.9 L2090.2 639.9 L2091.3 626.5 L2092.5 640.1 L2093.7 637 L2094.8 633.2 L2096 635 L2097.2 661.2 L2098.4 656.9 L2099.5 672.1 L2100.7 639.6 L2101.9 655.1 L2103 635.5 L2104.2 625.7 L2105.4 633.9 L2106.5 629.6 L2107.7 634.2 L2108.9 632.1 L2110.1 627.8 L2111.2 630.1 L2112.4 627 L2113.6 626.5 L2114.7 614.4 L2115.9 583.7 L2117.1 582.4 L2118.2 581.2 L2119.4 577.3 L2120.6 577.6 L2121.8 582.2 L2122.9 576 L2124.1 579.6 L2125.3 579.9 L2126.4 568 L2127.6 566 L2128.8 571.1 L2129.9 579.4 L2131.1 577 L2132.3 566.5 L2133.5 565.2 L2134.6 533.3 L2135.8 534.8 L2137 525.8 L2138.1 528.9 L2139.3 535.6 L2140.5 528.6 L2141.6 531.7 L2142.8 530.7 L2144 532 L2145.2 533.5 L2146.3 516.8 L2147.5 521.2 L2148.7 515 L2149.8 500 L2151 489.7 L2152.2 512.4 L2153.3 509.8 L2154.5 503.6 L2155.7 501.3 L2156.9 503.9 L2158 509.8 L2159.2 521.2 L2160.4 529.4 L2161.5 526.3 L2162.7 520.9 L2163.9 519.9 L2165 522.2 L2166.2 525.5 L2167.4 542 L2168.6 527.3 L2169.7 521.2 L2170.9 520.4 L2172.1 497 L2173.2 497.2 L2174.4 505.2 L2175.6 519.6 L2176.7 518.6 L2177.9 521.9 L2179.1 521.4 L2180.3 515 L2181.4 526.3 L2182.6 524.8 L2183.8 526.1 L2184.9 533 L2186.1 538.7 L2187.3 544.9 L2188.4 521.4 L2189.6 518.8 L2190.8 512.1 L2192 514 L2193.1 513.7 L2194.3 512.4 L2195.5 506.7 L2196.6 513.2 L2197.8 520.6 L2199 504.4 L2200.1 500.3 L2201.3 508.8 L2202.5 507.8 L2203.7 502.6 L2204.8 507.3 L2206 503.9 L2207.2 491.8 L2208.3 467.6 L2209.5 459.9 L2210.7 460.4 L2211.9 451.6 L2213 447.8 L2214.2 458.8 L2215.4 453.4 L2216.5 450.6 L2217.7 457.3 L2218.9 457.8 L2220 460.9 L2221.2 460.1 L2222.4 447.3 L2223.6 453.4 L2224.7 455.5 L2225.9 459.4 L2227.1 457.6 L2228.2 449.8 L2229.4 457 L2230.6 457.6 L2231.7 458.1 L2232.9 468.9 L2234.1 481.5 L2235.3 485.4 L2236.4 476.9 L2237.6 472.5 L2238.8 477.1 L2239.9 472.8 L2241.1 459.9 L2242.3 464 L2243.4 465 L2244.6 450.6 L2245.8 453.7 L2247 446.2 L2248.1 429.7 L2249.3 455.5 L2250.5 460.4 L2251.6 459.9 L2252.8 460.1 L2254 466.3 L2255.1 483.8 L2256.3 476.6 L2257.5 486.1 L2258.7 463.2 L2259.8 470.7 L2261 480.7 L2262.2 498 L2263.3 489.2 L2264.5 492.3 L2265.7 485.4 L2266.8 506.7 L2268 504.7 L2269.2 507.5 L2270.4 502.4 L2271.5 492.3 L2272.7 489.7 L2273.9 494.9 L2275 495.2 L2276.2 497.5 L2277.4 492.6 L2278.5 487.9 L2279.7 490.8 L2280.9 478.2 L2282.1 470.2 L2283.2 467.1 L2284.4 467.9 L2285.6 470.7 L2286.7 470.9 L2287.9 463.5 L2289.1 465.3 L2290.2 461.9 L2291.4 469.4 L2292.6 469.1 L2293.8 471.2 L2294.9 484.6 L2296.1 488.2 L2297.3 481.5 L2298.4 503.6 L2299.6 500.3 L2300.8 500.3 L2301.9 487.7 L2303.1 476.1 L2304.3 477.6 L2305.5 454.2 L2306.6 443.9 L2307.8 435.4 L2309 434.6 L2310.1 429 L2311.3 422.8 L2312.5 439.5 L2313.6 430 L2314.8 438.5 L2316 482 L2317.2 494.4 L2318.3 472.2 L2319.5 471.5 L2320.7 482.5 L2321.8 494.4 L2323 507.8 L2324.2 516.8 L2325.4 512.9 L2326.5 505.5 L2327.7 495.7 L2328.9 506.5 L2330 510.6 L2331.2 498.2 L2332.4 493.4 L2333.5 490.3 L2334.7 475.3 L2335.9 477.4 L2337.1 483.3 L2338.2 498.5 L2339.4 507.3 L2340.6 500.8 L2341.7 498.2 L2342.9 495.4 L2344.1 516.3 L2345.2 542.3 L2346.4 529.9 L2347.6 543.3 L2348.8 532.7 L2349.9 538.2 L2351.1 525.8 L2352.3 519.1 L2353.4 534.5 L2354.6 541.5 L2355.8 551.5 L2356.9 578.3 L2358.1 572.9 L2359.3 579.9 L2360.5 590.7 L2361.6 586.3 L2362.8 593.8 L2364 618.8 L2365.1 626.7 L2366.3 629.1 L2367.5 618 L2368.6 610.3 L2369.8 615.1 L2371 598.9 L2372.2 594.8 L2373.3 596.9 L2374.5 597.4 L2375.7 599.4 L2376.8 620.6 L2378 594.8 L2379.2 583.5 L2380.3 590.7 L2381.5 604.8 L2382.7 605.4 L2383.9 599.4 L2385 598.4 L2386.2 587.6 L2387.4 591.2 L2388.5 588.6 L2389.7 600 L2390.9 600.2 L2392 610.8" fill="none" stroke="#ea9a3e" stroke-width="5.3" stroke-linejoin="round" stroke-linecap="round"/>
<g fill="#ee7642" stroke="#fffaf7" stroke-width="6.0"><circle cx="148.9" cy="1010.6" r="27.2"/><circle cx="243" cy="968.5" r="13.4"/><circle cx="264" cy="948.7" r="32.9"/><circle cx="301.1" cy="895.9" r="8.1"/><circle cx="314.2" cy="882.6" r="8.1"/><circle cx="339.6" cy="809.5" r="27.6"/><circle cx="344.5" cy="808" r="8.2"/><circle cx="350" cy="814.4" r="7.6"/><circle cx="358.8" cy="770.8" r="7.9"/><circle cx="386.9" cy="761" r="7.8"/><circle cx="431" cy="809.5" r="7.9"/><circle cx="437" cy="844.7" r="7.7"/><circle cx="476.4" cy="902.7" r="23.6"/><circle cx="550.7" cy="810.8" r="16.2"/><circle cx="573.8" cy="828.4" r="16.7"/><circle cx="665.3" cy="767.4" r="18.7"/><circle cx="676.4" cy="819.8" r="11.4"/><circle cx="701.2" cy="822.7" r="12.3"/><circle cx="738.8" cy="867.2" r="9.4"/><circle cx="812.5" cy="825.5" r="16.3"/><circle cx="913.1" cy="962" r="8.8"/><circle cx="1010.3" cy="968.2" r="8.1"/><circle cx="1124.8" cy="979.8" r="13.1"/><circle cx="1225.6" cy="919.7" r="18.2"/><circle cx="1242" cy="921.3" r="10.5"/><circle cx="1338.9" cy="911" r="23.1"/><circle cx="1377.2" cy="915" r="8.8"/><circle cx="1442.5" cy="930.6" r="17.1"/><circle cx="1485.4" cy="886.7" r="7.3"/><circle cx="1519" cy="870.7" r="25.6"/><circle cx="1551.3" cy="846.6" r="25.4"/><circle cx="1600" cy="843.2" r="10"/><circle cx="1623.2" cy="784" r="14.1"/><circle cx="1639.7" cy="694" r="23.4"/><circle cx="1648.2" cy="745.7" r="22.6"/><circle cx="1697" cy="736.6" r="7.1"/><circle cx="1758.2" cy="731.5" r="23.8"/><circle cx="1807.4" cy="729" r="7.4"/><circle cx="1856.2" cy="754.3" r="27"/><circle cx="1865.3" cy="741.2" r="19.1"/><circle cx="1925.2" cy="651.2" r="32.9"/><circle cx="1934.5" cy="600" r="41.8"/><circle cx="1942.7" cy="586" r="43"/><circle cx="1950.9" cy="571.7" r="25.2"/><circle cx="1957.6" cy="543" r="28.8"/><circle cx="1967.3" cy="518.9" r="25.1"/><circle cx="1974.2" cy="576" r="16.9"/><circle cx="1983" cy="588" r="12.7"/><circle cx="1991" cy="539" r="10.5"/><circle cx="2000.2" cy="578.5" r="13.4"/><circle cx="2008.3" cy="539.5" r="22.1"/><circle cx="2015.6" cy="537.9" r="21.4"/><circle cx="2032.8" cy="561.5" r="19.3"/><circle cx="2049.4" cy="593.7" r="28.2"/><circle cx="2073.8" cy="632.4" r="7.1"/><circle cx="2081.5" cy="613.5" r="18.6"/><circle cx="2089.5" cy="640.5" r="29.1"/><circle cx="2105.5" cy="631" r="14.7"/><circle cx="2113.5" cy="625.7" r="18.3"/><circle cx="2123.4" cy="576.7" r="25.2"/><circle cx="2129.3" cy="578.5" r="12.3"/><circle cx="2140" cy="538.6" r="23.8"/><circle cx="2146.6" cy="521.2" r="19.1"/><circle cx="2154.6" cy="502.6" r="15.5"/><circle cx="2163.9" cy="519.6" r="9.6"/><circle cx="2172" cy="497.3" r="10.5"/><circle cx="2178.6" cy="515.9" r="21.4"/><circle cx="2188.5" cy="521.7" r="7.8"/><circle cx="2195.9" cy="506.6" r="16.6"/><circle cx="2213" cy="449" r="15.7"/><circle cx="2221.2" cy="460.4" r="17.9"/><circle cx="2230.5" cy="458" r="28.5"/><circle cx="2245.7" cy="454" r="7.3"/><circle cx="2254" cy="466.1" r="8.6"/><circle cx="2262.5" cy="498.8" r="14.2"/><circle cx="2271.5" cy="492.3" r="15.5"/><circle cx="2278.6" cy="488.2" r="12.4"/><circle cx="2287.3" cy="470.6" r="9"/><circle cx="2295.5" cy="484" r="10"/><circle cx="2303" cy="476.7" r="7.5"/><circle cx="2319.8" cy="471.4" r="7.7"/><circle cx="2327.8" cy="495.4" r="7.4"/><circle cx="2335.8" cy="477.8" r="8.5"/><circle cx="2342.5" cy="517" r="8.5"/><circle cx="2352.3" cy="519.4" r="8.8"/><circle cx="2359.8" cy="591.3" r="19.8"/><circle cx="2377.5" cy="623.5" r="7.1"/><circle cx="2386.4" cy="598.5" r="21.8"/></g>
</g>
<g transform="translate(2118.1 1003.5) scale(0.965)"><path fill="#fff" stroke="#fff" stroke-width="0.4" d="M18.244 2.25h3.308l-7.227 8.26 8.502 11.24H16.17l-5.214-6.817L4.99 21.75H1.68l7.73-8.835L1.254 2.25H8.08l4.713 6.231zm-1.161 17.52h1.833L7.084 4.126H5.117z"/></g>
<text x="2156.8" y="1024" font-size="22" fill="#ffffff" stroke="#ffffff" stroke-width="0.4" textLength="179">@StrategyTracker</text>
</svg>
<div class="abs lbl" style="left:44.53px;top:27.92px;font-size:18.4px;letter-spacing:0.52px;transform:scaleX(1.07);transform-origin:0 0;-webkit-text-stroke:0.35px #9398a6">BITCOIN PORTFOLIO VALUE</div>
<div class="abs " style="left:46.37px;top:57.48px;font-size:66.3px;letter-spacing:0.0px;transform:scaleX(1.0275);transform-origin:0 0;font-weight:bold">$58.97 billion</div>
<div class="abs o" style="left:45.37px;top:159.58px;font-size:24px;letter-spacing:0px;transform:scaleX(0.7278);transform-origin:0 0;font-weight:bold;-webkit-text-stroke:0.7px #e9803f">₿</div>
<div class="abs " style="left:63.63px;top:158.96px;font-size:24.5px;letter-spacing:0.812px;transform:scaleX(1.07);transform-origin:0 0;-webkit-text-stroke:0.6px #fff">660,624</div>
<div class="abs " style="left:187.0px;top:160.80px;font-size:21.5px;letter-spacing:0.074px;transform:scaleX(1.07);transform-origin:0 0;color:#a3a7b2;-webkit-text-stroke:0.25px #a3a7b2">Avg Cost:</div>
<div class="abs " style="left:298.0px;top:158.96px;font-size:24.5px;letter-spacing:0.66px;transform:scaleX(1.07);transform-origin:0 0;-webkit-text-stroke:0.6px #fff">$74,696</div>
<svg class="abs" style="left:420px;top:161px" width="21" height="20" viewBox="0 0 21 20"><path d="M10.4 2.6 L18.3 17.7 H2.5 Z" fill="#6dd3a2" stroke="#6dd3a2" stroke-width="3" stroke-linejoin="round"/></svg>
<div class="abs g" style="left:448.93px;top:158.34px;font-size:25px;letter-spacing:0.224px;transform:scaleX(1.07);transform-origin:0 0;font-weight:bold">+19.50%</div>
<div class="abs g" style="left:565.33px;top:162.29px;font-size:19.5px;letter-spacing:0.137px;transform:scaleX(1.07);transform-origin:0 0;-webkit-text-stroke:0.25px #6dd3a2">(+$9,622,614,648)</div>
<div class="abs " style="left:44.8px;top:210.01px;font-size:17px;letter-spacing:0.0px;transform:scaleX(1.0639);transform-origin:0 0;color:#676b78;-webkit-text-stroke:0.25px #676b78">As of Dec 14, 2025</div>
<div class="card"></div>
<div class="abs lbl" style="left:2057.35px;top:49.16px;font-size:16.7px;letter-spacing:0.0px;transform:scaleX(1.0528);transform-origin:0 0;-webkit-text-stroke:0.3px #9398a6">PURCHASE EVENTS</div>
<div class="abs lbl" style="left:2304.5px;top:49.16px;font-size:16.7px;letter-spacing:0.148px;transform:scaleX(1.07);transform-origin:0 0;-webkit-text-stroke:0.3px #9398a6">TOTAL BTC</div>
<div class="abs " style="left:2057.7px;top:80.43px;font-size:26.9px;letter-spacing:1.833px;transform:scaleX(1.2);transform-origin:0 0;font-weight:bold">89</div>
<div class="abs o" style="left:2304.78px;top:80.64px;font-size:27px;letter-spacing:0px;transform:scaleX(0.815);transform-origin:0 0;font-weight:bold">₿</div>
<div class="abs " style="left:2325.06px;top:80.43px;font-size:26.9px;letter-spacing:0.711px;transform:scaleX(1.14);transform-origin:0 0;font-weight:bold">660,624</div>
<div class="abs " style="left:2057.53px;top:115.69px;font-size:16.2px;letter-spacing:0.506px;transform:scaleX(1.07);transform-origin:0 0;color:#9ea3b0;-webkit-text-stroke:0.25px #9ea3b0">in selected range</div>
<div class="abs " style="left:2304.5px;top:115.69px;font-size:16.2px;letter-spacing:0.385px;transform:scaleX(1.07);transform-origin:0 0;color:#9ea3b0;-webkit-text-stroke:0.25px #9ea3b0">As of Dec 14, 2025</div>
</body></html>
